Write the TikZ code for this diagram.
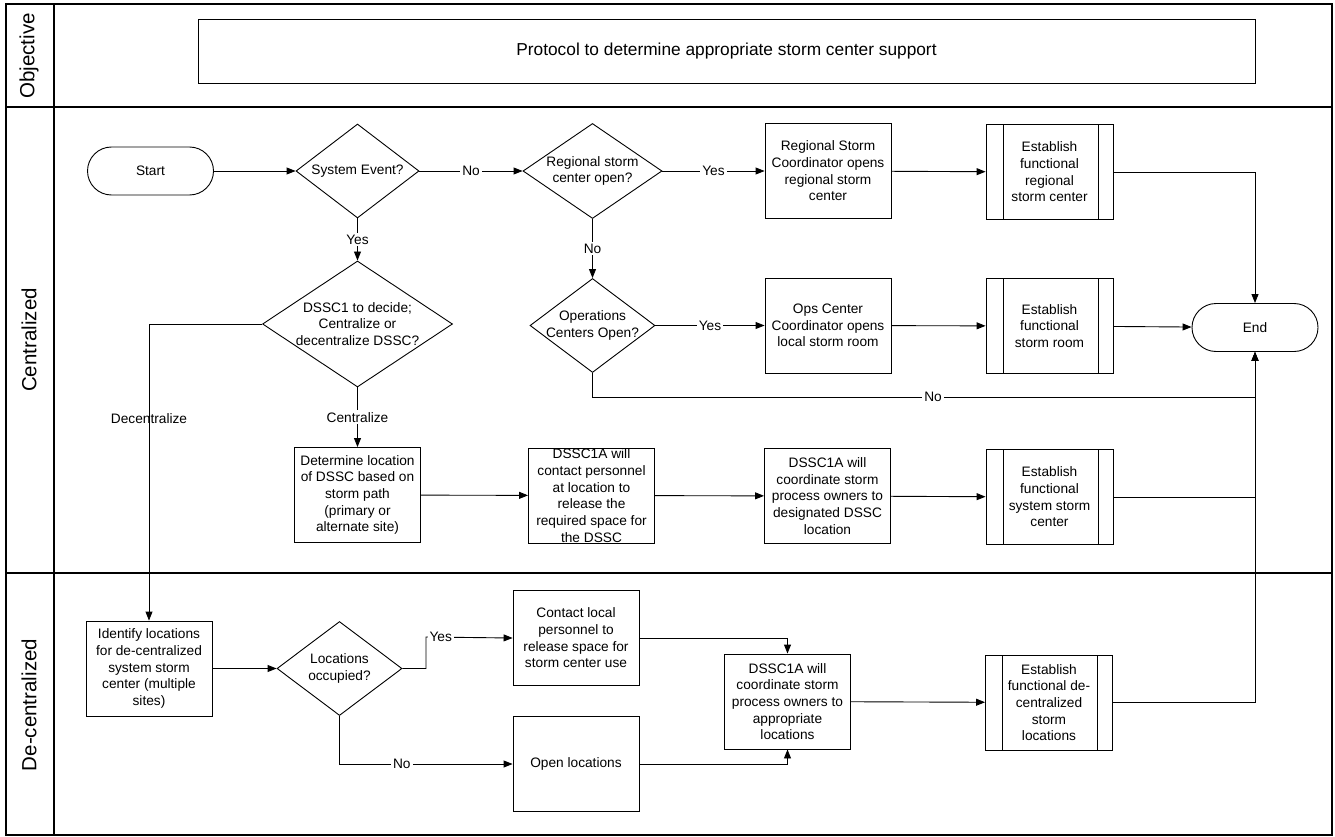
\documentclass[tikz,border=0pt]{standalone}
\usepackage{fontspec}
\setmainfont{Liberation Sans}
\usetikzlibrary{shapes.geometric,arrows.meta}
\newcommand\nodefont{\fontsize{13.7}{16.7}\selectfont}
\newcommand\lanefont{\fontsize{20.5}{24}\selectfont}
\newcommand\objfont{\fontsize{17.3}{20}\selectfont}
\begin{document}
\begin{tikzpicture}[x=1pt,y=-1pt,
  frame/.style={line width=1.2pt},
  box/.style={draw, line width=0.9pt, minimum width=126pt, minimum height=95pt,
    inner sep=0pt, align=center, font=\nodefont},
  proc/.style={box, path picture={
    \draw[line width=0.9pt] ([xshift=17pt]path picture bounding box.north west)
      -- ([xshift=17pt]path picture bounding box.south west);
    \draw[line width=0.9pt] ([xshift=-15pt]path picture bounding box.north east)
      -- ([xshift=-15pt]path picture bounding box.south east);}},
  dia/.style={draw, diamond, line width=0.9pt, inner sep=0pt},
  term/.style={draw, line width=0.9pt, rounded corners=24pt, minimum width=126pt,
    minimum height=48pt, font=\nodefont},
  txt/.style={align=center, inner sep=0pt, font=\nodefont},
  lanelabel/.style={rotate=90, font=\lanefont},
  flow/.style={line width=0.9pt, -{Triangle[length=9pt,width=7pt]}},
  lbl/.style={fill=white, inner sep=2pt, font=\nodefont},
  lblclear/.style={inner sep=2pt, font=\nodefont}
]
\useasboundingbox (0,0) rectangle (1335,837);

% swimlane frame
\draw[frame] (6,4) rectangle (1332,835);
\draw[frame] (54,4) -- (54,835);
\draw[frame] (6,107) -- (1332,107);
\draw[frame] (6,573) -- (1332,573);
\node[lanelabel] (lobj) at (29,56) {Objective};
\node[lanelabel] (lcen) at (29,340) {Centralized};
\node[lanelabel] (ldec) at (29,705) {De-centralized};

% objective
\node[draw, line width=0.9pt, minimum width=1057pt, minimum height=64pt, font=\objfont]
  (obj) at (726.5,51) {Protocol to determine appropriate storm center support};

% centralized lane
\node[term] (start) at (150.5,171) {Start};
\node[dia, minimum width=123pt, minimum height=94pt] (se) at (357.5,171) {};
\node[txt] (set) at (se) {System Event?};
\node[dia, minimum width=139pt, minimum height=95pt] (rs) at (592.5,171) {};
\node[txt] (rst) at (rs) {Regional storm\\center open?};
\node[box] (rsc) at (828,171) {Regional Storm\\Coordinator opens\\regional storm\\center};
\node[proc, minimum width=127pt] (erg) at (1049.5,172) {Establish\\functional\\regional\\storm center};

\node[dia, minimum width=190pt, minimum height=126pt] (d1) at (357.5,324) {};
\node[txt] (d1t) at (d1) {DSSC1 to decide;\\Centralize or\\decentralize DSSC?};
\node[dia, minimum width=125pt, minimum height=94pt] (ops) at (592.5,325.5) {};
\node[txt] (opst) at (ops) {Operations\\Centers Open?};
\node[box] (opsb) at (828,325.5) {Ops Center\\Coordinator opens\\local storm room};
\node[proc, minimum width=127pt] (esr) at (1049.5,326) {Establish\\functional\\storm room};
\node[term] (end) at (1255,327.5) {End};
\coordinate (nob) at (592.5,397);

\node[box] (det) at (357.5,495) {Determine location\\of DSSC based on\\storm path\\(primary or\\alternate site)};
\node[box] (cp) at (591.5,495.5) {};
\node[txt] (cpt) at (cp) {DSSC1A will\\contact personnel\\at location to\\release the\\required space for\\the DSSC};
\node[box] (cd) at (827.5,496) {DSSC1A will\\coordinate storm\\process owners to\\designated DSSC\\location};
\node[proc, minimum width=127pt] (esys) at (1049.5,497) {Establish\\functional\\system storm\\center};

% de-centralized lane
\node[box] (ident) at (149,668.5) {Identify locations\\for de-centralized\\system storm\\center (multiple\\sites)};
\node[dia, minimum width=125pt, minimum height=94pt] (loc) at (339.5,668.5) {};
\node[txt] (loct) at (loc) {Locations\\occupied?};
\coordinate (ycorner) at (426,637);
\node[box] (clp) at (576,638) {Contact local\\personnel to\\release space for\\storm center use};
\node[box] (opn) at (576,764) {Open locations};
\node[box] (ca) at (787.5,701.5) {DSSC1A will\\coordinate storm\\process owners to\\appropriate\\locations};
\node[proc, minimum width=127pt] (edec) at (1049,702.5) {Establish\\functional de-\\centralized\\storm\\locations};

% connectors
\draw[flow] (start) -- (se);
\draw[flow] (se) -- node[lbl] {No} (rs);
\draw[flow] (rs) -- node[lbl] {Yes} (rsc);
\draw[flow] (rsc) -- (erg);
\draw[flow] (erg.east) -| (end.north);
\draw[flow] (se) -- node[lbl] {Yes} (d1);
\draw[flow] (rs) -- node[lbl] {No} (ops);
\draw[flow] (ops) -- node[lbl] {Yes} (opsb);
\draw[flow] (opsb) -- (esr);
\draw[flow] (esr) -- (end);
\draw[flow] (ops.south) -- (nob) -| node[lbl, pos=0.257] {No} (end.south);
\draw[flow] (d1.west) -| node[lblclear, pos=0.66] {Decentralize} (ident.north);
\draw[flow] (d1) -- node[lbl] {Centralize} (det);
\draw[flow] (det) -- (cp);
\draw[flow] (cp) -- (cd);
\draw[flow] (cd) -- (esys);
\draw[flow] (esys.east) -| (end.south);
\draw[flow] (ident) -- (loc);
\draw[flow] (loc.east) -| (ycorner) -- node[lbl, pos=0.17] {Yes} (clp.west);
\draw[flow] (loc.south) |- node[lbl, pos=0.68] {No} (opn.west);
\draw[flow] (clp.east) -| (ca.north);
\draw[flow] (opn.east) -| (ca.south);
\draw[flow] (ca) -- (edec);
\draw[flow] (edec.east) -| (end.south);
\end{tikzpicture}
\end{document}
